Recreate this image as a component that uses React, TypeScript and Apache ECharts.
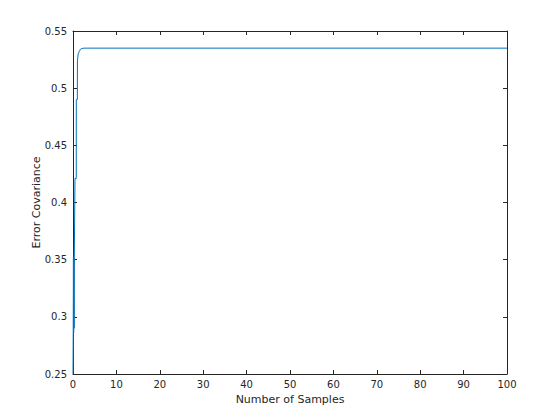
import React, { useEffect, useRef } from "react";
import * as echarts from "echarts";

const sampleX = [0, 0.05, 0.1, 0.15, 0.2, 0.25, 0.3, 0.45, 0.46, 0.75, 0.76, 1.0, 1.02, 1.1, 1.2, 1.45, 1.7, 1.9, 2.5, 100];
const covariance = [0.25, 0.286, 0.352, 0.286, 0.352, 0.29, 0.352, 0.352, 0.421, 0.421, 0.49, 0.49, 0.524, 0.527, 0.53, 0.532, 0.534, 0.5345, 0.535, 0.535];
const xTitle = "Number of Samples";
const yTitle = "Error Covariance";

const axisColor = "#262626";
const font = "'DejaVu Sans', sans-serif";

export default function App() {
  const ref = useRef<HTMLDivElement>(null);
  useEffect(() => {
    if (!ref.current) return;
    const chart = echarts.init(ref.current, null, { renderer: "svg" });
    const data = sampleX.map((x, i) => [x, covariance[i]]);
    const baseAxis = {
      axisLine: { show: true, onZero: false, lineStyle: { color: axisColor, width: 1 } },
      axisTick: { show: true, inside: true, length: 4, lineStyle: { color: axisColor } },
      splitLine: { show: false },
    };
    chart.setOption({
      animation: false,
      backgroundColor: "#ffffff",
      grid: { left: 73, right: 53, top: 31, bottom: 46, containLabel: false },
      xAxis: [
        {
          ...baseAxis,
          type: "value",
          min: 0,
          max: 100,
          interval: 10,
          position: "bottom",
          name: xTitle,
          nameLocation: "middle",
          nameGap: 20,
          nameMoveOverlap: false,
          nameTextStyle: { color: axisColor, fontFamily: font, fontSize: 11 },
          axisLabel: { color: axisColor, fontFamily: font, fontSize: 10, margin: 5 },
        },
        {
          ...baseAxis,
          type: "value",
          min: 0,
          max: 100,
          interval: 10,
          position: "top",
          axisLabel: { show: false },
        },
      ],
      yAxis: [
        {
          ...baseAxis,
          type: "value",
          min: 0.25,
          max: 0.55,
          interval: 0.05,
          position: "left",
          name: yTitle,
          nameLocation: "middle",
          nameGap: 31,
          nameMoveOverlap: false,
          nameTextStyle: { color: axisColor, fontFamily: font, fontSize: 11 },
          axisLabel: { color: axisColor, fontFamily: font, fontSize: 10, margin: 6 },
        },
        {
          ...baseAxis,
          type: "value",
          min: 0.25,
          max: 0.55,
          interval: 0.05,
          position: "right",
          axisLabel: { show: false },
        },
      ],
      series: [
        {
          type: "line",
          data,
          showSymbol: false,
          symbol: "none",
          lineStyle: { color: "#0072BD", width: 1 },
          clip: true,
        },
      ],
    });
    return () => chart.dispose();
  }, []);
  return (
    <div
      ref={ref}
      style={{ position: "fixed", left: 0, top: 0, width: 560, height: 420, background: "#fff" }}
    />
  );
}
